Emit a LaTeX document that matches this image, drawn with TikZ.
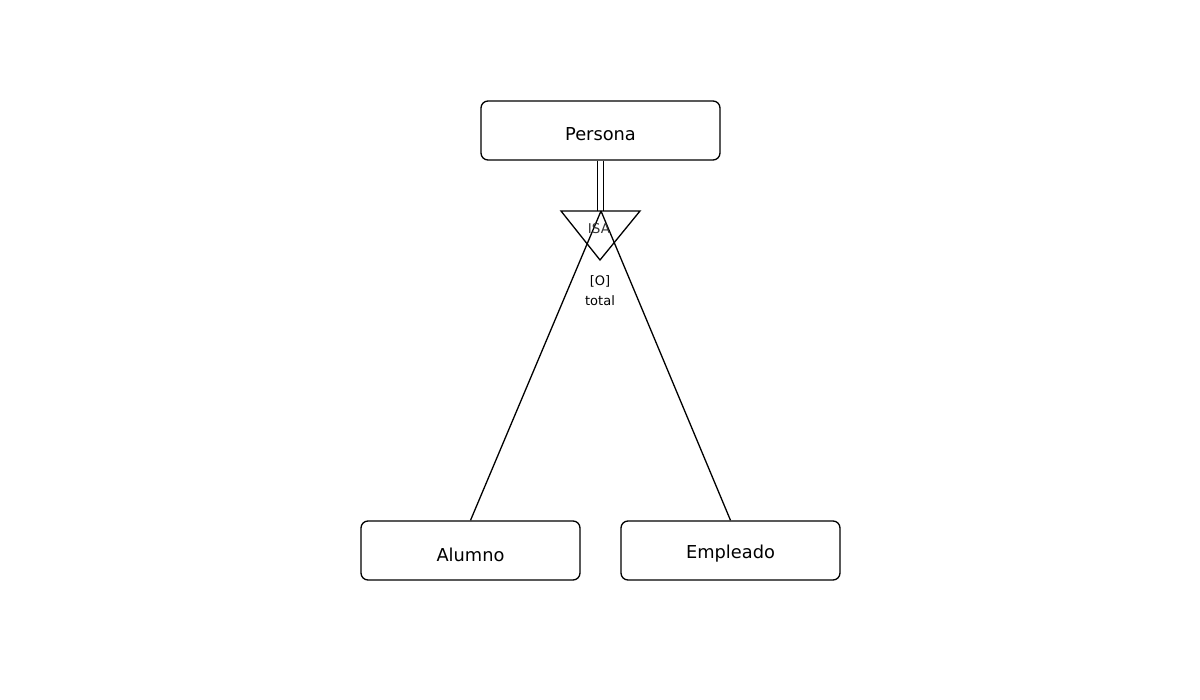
\documentclass[tikz,border=0pt]{standalone}
\usepackage{fontspec}
\setmainfont{DejaVu Sans}
\newcommand{\lowered}[2]{\raisebox{-#1}[0pt][0pt]{#2}}
\begin{document}
\begin{tikzpicture}[x=1pt,y=-1pt,
  ent/.style={draw, line width=1.3pt, rounded corners=7pt, minimum height=59pt, inner sep=0pt, font=\fontsize{17.8}{20}\selectfont},
  lbl/.style={font=\fontsize{13}{15}\selectfont, inner sep=0pt, anchor=base},
  ln/.style={line width=1.3pt}]
\useasboundingbox (0,0) rectangle (1200,700);
\node[ent, minimum width=239pt] (persona) at (600.5,130.5) {\lowered{10.5pt}{Persona}};
\node[ent, minimum width=219pt] (alumno) at (470.5,550.5) {\lowered{10.5pt}{Alumno}};
\node[ent, minimum width=219pt] (empleado) at (730.5,550.5) {\lowered{7.8pt}{Empleado}};
\coordinate (tl) at (561,211);
\coordinate (tr) at (640,211);
\coordinate (tb) at (600,260);
\coordinate (tc) at (601,211);
\draw[ln, line join=miter] (tl) -- (tr) -- (tb) -- cycle;
\draw[ln] ([xshift=-3pt]persona.south) -- ([xshift=-3pt]persona.south |- tc);
\draw[ln] ([xshift=3pt]persona.south) -- ([xshift=3pt]persona.south |- tc);
\draw[ln] (tc) -- (alumno.north);
\draw[ln] (tc) -- (empleado.north);
\node[lbl, text=black!80, font=\fontsize{13.5}{15}\selectfont] (isa) at (599,233.3) {ISA};
\node[lbl] (o) at (600,286) {[O]};
\node[lbl] (total) at (600,305.7) {total};
\end{tikzpicture}
\end{document}
